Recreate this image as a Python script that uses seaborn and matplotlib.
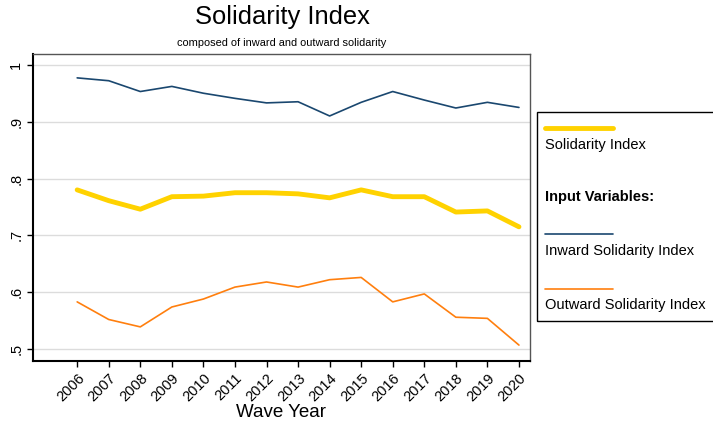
import numpy as np
import pandas as pd
import seaborn as sns
import matplotlib.pyplot as plt
from matplotlib.lines import Line2D

years = list(range(2006, 2021))
solidarity = [0.780, 0.761, 0.746, 0.768, 0.769, 0.775, 0.775, 0.773,
              0.766, 0.780, 0.768, 0.768, 0.741, 0.743, 0.715]
inward = [0.977, 0.972, 0.953, 0.962, 0.950, 0.941, 0.933, 0.935,
          0.910, 0.934, 0.953, 0.938, 0.924, 0.934, 0.925]
outward = [0.583, 0.552, 0.539, 0.574, 0.588, 0.609, 0.618, 0.609,
           0.622, 0.626, 0.583, 0.597, 0.556, 0.554, 0.507]
ytick_vals = [0.5, 0.6, 0.7, 0.8, 0.9, 1.0]
ytick_labels = [".5", ".6", ".7", ".8", ".9", "1"]

df = pd.DataFrame({"year": years, "solidarity": solidarity,
                   "inward": inward, "outward": outward})

sns.set_style("white")
plt.rcParams['font.family'] = ['Liberation Sans', 'DejaVu Sans']
plt.rcParams['text.color'] = 'black'
plt.rcParams['axes.labelcolor'] = 'black'
plt.rcParams['xtick.color'] = 'black'
plt.rcParams['ytick.color'] = 'black'

col_sol = "#ffd200"
col_in = "#1a476f"
col_out = "#ff7f0e"

fig = plt.figure(figsize=(7.13, 4.26), dpi=100)
ax = fig.add_axes([33 / 713, 1 - 361 / 426, 497 / 713, 307 / 426])

sns.lineplot(x="year", y="inward", data=df, ax=ax, color=col_in, linewidth=1.2)
sns.lineplot(x="year", y="solidarity", data=df, ax=ax, color=col_sol, linewidth=3.5)
sns.lineplot(x="year", y="outward", data=df, ax=ax, color=col_out, linewidth=1.2)

ax.set_xlim(2004.6, 2020.35)
ax.set_ylim(0.479, 1.019)
ax.set_yticks(ytick_vals)
ax.set_yticklabels(ytick_labels, rotation=90, va="center", fontsize=10.5)
ax.set_xticks(years)
ax.set_xticklabels([str(y) for y in years], rotation=45, ha="right",
                   rotation_mode="anchor", fontsize=10.5)
ax.yaxis.grid(True, color="#dcdcdc", linewidth=1)
ax.set_axisbelow(True)
ax.tick_params(axis="both", direction="out", length=4, width=1, color="black",
               left=True, bottom=True, pad=3)
for side in ["left", "bottom"]:
    ax.spines[side].set_color("black")
    ax.spines[side].set_linewidth(1.5)
for side in ["top", "right"]:
    ax.spines[side].set_color("#555555")
    ax.spines[side].set_linewidth(1.0)
ax.set_xlabel("Wave Year", fontsize=13.5, labelpad=0)
ax.set_ylabel("")

fig.text(282 / 713, 1 - 17 / 426, "Solidarity Index", ha="center", va="center", fontsize=18.4)
fig.text(282 / 713, 1 - 43 / 426, "composed of inward and outward solidarity",
         ha="center", va="center", fontsize=7.9)

# legend box drawn by hand
box = plt.Rectangle((537 / 713, 1 - 321 / 426), 180 / 713, 209 / 426,
                    transform=fig.transFigure, fill=False, edgecolor="black",
                    linewidth=1.0, clip_on=False)
fig.patches.append(box)
entries = [(128, 145, col_sol, 3.5, "Solidarity Index"),
           (234, 251, col_in, 1.2, "Inward Solidarity Index"),
           (289, 305, col_out, 1.2, "Outward Solidarity Index")]
for ly, ty, c, lw, lab in entries:
    fig.lines.append(Line2D([545 / 713, 613 / 713], [1 - ly / 426, 1 - ly / 426],
                            transform=fig.transFigure, color=c, linewidth=lw))
    fig.text(545 / 713, 1 - ty / 426, lab, ha="left", va="center", fontsize=10.5)
fig.text(545 / 713, 1 - 197 / 426, "Input Variables:", ha="left", va="center",
         fontsize=10.5, fontweight="bold")

fig.savefig("out.png", dpi=100)
